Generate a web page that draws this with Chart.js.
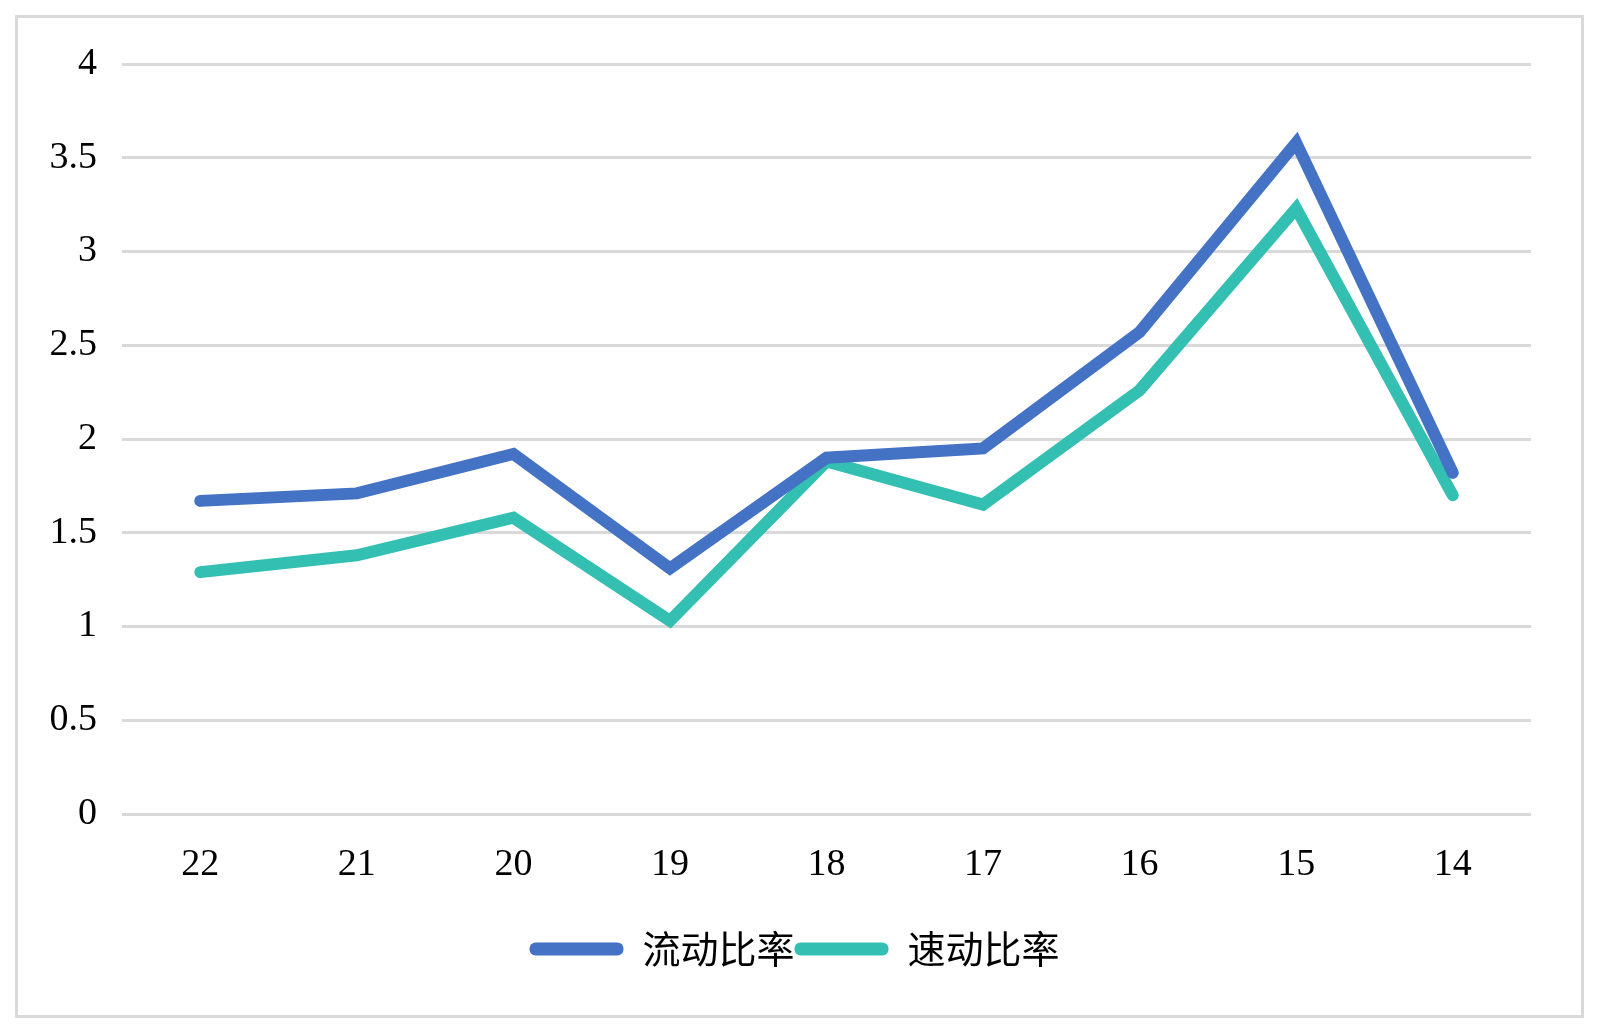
<!DOCTYPE html>
<html>
<head>
<meta charset="utf-8">
<script src="https://cdn.jsdelivr.net/npm/chart.js@4"></script>
<style>
  body { margin: 0; background: #fff; }
  #frame {
    position: absolute; left: 15px; top: 15px;
    width: 1563px; height: 997px;
    border: 3px solid #d9d9d9;
  }
  #myChart { position: absolute; left: 0; top: 0; }
</style>
</head>
<body>
<div id="frame"></div>
<canvas id="myChart" width="1600" height="1036"></canvas>
<script>
// years (reverse order, as in the source)
const categories = ['22', '21', '20', '19', '18', '17', '16', '15', '14'];
const currentRatio = [1.67, 1.71, 1.92, 1.31, 1.90, 1.95, 2.57, 3.58, 1.82];
const quickRatio = [1.29, 1.38, 1.58, 1.03, 1.88, 1.65, 2.26, 3.23, 1.70];
const yTicks = [0, 0.5, 1, 1.5, 2, 2.5, 3, 3.5, 4];

const blue = '#4472C4';
const teal = '#33BFB1';

// move the legend a bit to the right, like the original
const legendShift = {
  id: 'legendShift',
  afterLayout: function(chart) {
    chart.legend.left += 29;
    chart.legend.right += 29;
  }
};

var ctx = document.getElementById('myChart').getContext('2d');

// eslint-disable-next-line no-undef
var chart = new Chart(ctx, {
  type: 'line',
  data: {
    labels: categories,
    datasets: [{
      label: '流动比率',
      data: currentRatio,
      borderColor: blue,
      backgroundColor: blue,
      borderWidth: 12,
      pointRadius: 0,
      borderCapStyle: 'round',
      borderJoinStyle: 'miter',
      tension: 0
    },
    {
      label: '速动比率',
      data: quickRatio,
      borderColor: teal,
      backgroundColor: teal,
      borderWidth: 12,
      pointRadius: 0,
      borderCapStyle: 'round',
      borderJoinStyle: 'miter',
      tension: 0
    }]
  },
  plugins: [legendShift],
  options: {
    responsive: false,
    animation: false,
    layout: { padding: { top: 64, right: 69, left: 0, bottom: 58 } },
    scales: {
      x: {
        offset: true,
        grid: { display: false },
        border: { display: false },
        ticks: {
          color: '#000',
          padding: 20,
          font: { family: 'Liberation Serif', size: 38 }
        },
        afterFit: function(scale) { scale.height = 116; }
      },
      y: {
        min: 0,
        max: 4,
        afterBuildTicks: function(scale) {
          scale.ticks = yTicks.map(v => ({ value: v }));
        },
        grid: { color: '#d9d9d9', lineWidth: 3, drawTicks: false },
        border: { display: false },
        ticks: {
          color: '#000',
          padding: 25,
          font: { family: 'Liberation Serif', size: 38 },
          callback: function(v) { return String(v); }
        },
        afterFit: function(scale) { scale.width = 122; }
      }
    },
    plugins: {
      tooltip: { enabled: false },
      legend: {
        position: 'bottom',
        labels: {
          color: '#000',
          boxWidth: 94,
          boxHeight: 13,
          padding: 0,
          useBorderRadius: true,
          borderRadius: 6,
          font: { family: 'Noto Sans CJK SC', size: 38 },
          generateLabels: function(c) {
            const items = Chart.defaults.plugins.legend.labels.generateLabels(c);
            items.forEach(it => { it.lineWidth = 0; });
            return items;
          }
        }
      }
    }
  }
});
</script>
</body>
</html>
